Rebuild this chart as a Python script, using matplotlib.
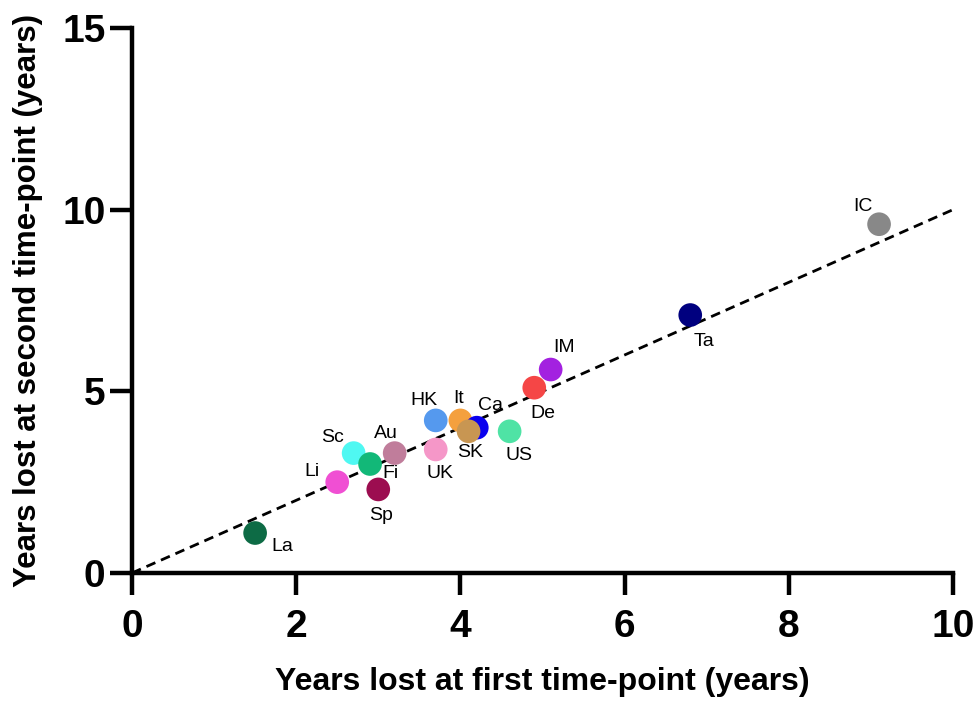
import matplotlib.pyplot as plt

plt.rcParams['font.family'] = ['Liberation Sans', 'DejaVu Sans']

# values
countries = ['La', 'Li', 'Sc', 'Fi', 'Sp', 'Au', 'HK', 'UK', 'It', 'Ca', 'SK', 'US', 'De', 'IM', 'Ta', 'IC']
first_tp = [1.5, 2.5, 2.7, 2.9, 3.0, 3.2, 3.7, 3.7, 4.0, 4.2, 4.1, 4.6, 4.9, 5.1, 6.8, 9.1]
second_tp = [1.1, 2.5, 3.3, 3.0, 2.3, 3.3, 4.2, 3.4, 4.2, 4.0, 3.9, 3.9, 5.1, 5.6, 7.1, 9.6]
colors = ['#0d6b45', '#f04fd3', '#4ff8f2', '#12b878', '#9c0d50', '#c07d9b', '#5599ee', '#f597c8',
          '#f4a03e', '#0a00ee', '#c89652', '#4fe3a5', '#f54646', '#a321e0', '#00007f', '#888888']

identity_x = [0, 10]
identity_y = [0, 10]

# label offsets in pixels (dx right, dy up)
offsets = {'La': (27, -13), 'Li': (-25, 11), 'Sc': (-21, 16), 'Fi': (20, -10), 'Sp': (3, -26),
           'Au': (-9, 20), 'HK': (-12, 20), 'UK': (4, -24), 'It': (-2, 22), 'SK': (2, -21),
           'Ca': (14, 22), 'US': (9, -24), 'De': (9, -26), 'IM': (13, 22), 'Ta': (14, -26),
           'IC': (-16, 18)}

fig = plt.figure(figsize=(9.79, 7.06), dpi=100)
ax = fig.add_axes([0.1348, 0.1884, 0.8386, 0.7719])

ax.plot(identity_x, identity_y, color='black', linestyle=(0, (3.5, 2.2)), linewidth=2.0, zorder=2)
ax.scatter(first_tp, second_tp, c=colors, s=290, linewidths=0, zorder=3)

for name, x, y in zip(countries, first_tp, second_tp):
    dx, dy = offsets[name]
    ax.annotate(name, (x, y), xytext=(dx * 0.72, dy * 0.72), textcoords='offset points',
                ha='center', va='center', fontsize=14, zorder=4)

ax.set_xlim(0, 10)
ax.set_ylim(0, 15)
ax.set_xticks([0, 2, 4, 6, 8, 10])
ax.set_yticks([0, 5, 10, 15])
for s in ['top', 'right']:
    ax.spines[s].set_visible(False)
for s in ['left', 'bottom']:
    ax.spines[s].set_linewidth(3.2)
ax.tick_params(width=3.2, length=16, labelsize=28)
ax.tick_params(axis='x', pad=10)
ax.tick_params(axis='y', pad=3)
for lab in ax.get_xticklabels() + ax.get_yticklabels():
    lab.set_fontweight('bold')

ax.set_xlabel('Years lost at first time-point (years)', fontsize=23, fontweight='bold', labelpad=16)
ax.set_ylabel('Years lost at second time-point (years)', fontsize=22.5, fontweight='bold', labelpad=14)

fig.savefig('out.png', dpi=100)
